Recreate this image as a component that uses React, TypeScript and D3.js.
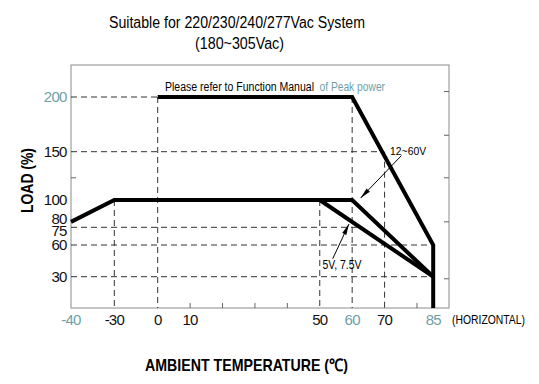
import React from "react";
import * as d3 from "d3";

// derating curves (temperature in °C, load in %)
const peakTemps = [0, 60, 85, 85];
const peakLoads = [200, 200, 60, 0];
const wideTemps = [-40, -30, 60, 85];
const wideLoads = [80, 100, 100, 30];
const lowTemps = [50, 85];
const lowLoads = [100, 30];

const xTickLabels = [-40, -30, 0, 10, 50, 60, 70, 85];
const yTickLabels = [200, 150, 100, 80, 75, 60, 30];
const xAccent = [-40, 60, 85];
const yAccent = [200];
const xMinorTicks = [10, 20, 30, 40, 80];
const leftMinorTicks = [123];
const rightMinorTicks = [205, 165, 123, 80, 28];

const W = 539;
const H = 384;
const frame = { left: 71, right: 449, top: 65, bottom: 308 };
const accent = "#6e9fa8";
const font = "'Liberation Sans', Arial, sans-serif";

// the printed axis is piecewise: -40..0 is squeezed
const x = d3.scaleLinear().domain([-40, -30, 0, 85]).range([71, 114.3, 157.7, 433.2]);
const y = d3.scaleLinear().domain([0, 30, 60, 75, 100, 150, 200]).range([308, 276.7, 245, 227.3, 200, 151.7, 97]);

const line = d3.line<[number, number]>().x(d => x(d[0])).y(d => y(d[1]));
const zip = (t: number[], l: number[]) => t.map((v, i) => [v, l[i]] as [number, number]);

// x pixel where a curve crosses a given load
function crossX(t: number[], l: number[], load: number) {
  for (let i = 0; i < t.length - 1; i++) {
    const y0 = y(l[i]), y1 = y(l[i + 1]), yy = y(load);
    if ((yy - y0) * (yy - y1) <= 0 && y0 !== y1) {
      const k = (yy - y0) / (y1 - y0);
      return x(t[i]) + k * (x(t[i + 1]) - x(t[i]));
    }
  }
  return x(85);
}

export default function App() {
  const dash = { stroke: "#333", strokeWidth: 1, strokeDasharray: "6,4", fill: "none" };
  const hLines = [
    { load: 200, x2: x(0) },
    { load: 150, x2: crossX(peakTemps, peakLoads, 150) },
    { load: 75, x2: crossX(lowTemps, lowLoads, 75) },
    { load: 60, x2: x(85) },
    { load: 30, x2: x(85) },
  ];
  const vLines = [
    { t: -30, top: 100 },
    { t: 0, top: 200 },
    { t: 50, top: 100 },
    { t: 60, top: 200 },
    { t: 70, top: 150 },
  ];
  const yLabelNudge: Record<number, number> = { 80: -3, 75: 3 };

  return (
    <svg width={W} height={H} style={{ position: "absolute", left: 0, top: 0, background: "#fff" }} fontFamily={font}>
      <defs>
        <marker id="ah" viewBox="0 0 12 6" refX="12" refY="3" markerWidth="11" markerHeight="5.5"
          markerUnits="userSpaceOnUse" orient="auto">
          <path d="M0,0.5 L12,3 L0,5.5 z" fill="#000" />
        </marker>
      </defs>

      <text x={237} y={28} textAnchor="middle" fontSize={16} textLength={256} lengthAdjust="spacingAndGlyphs">
        Suitable for 220/230/240/277Vac System
      </text>
      <text x={239.5} y={48.5} textAnchor="middle" fontSize={16} textLength={89} lengthAdjust="spacingAndGlyphs">
        (180~305Vac)
      </text>

      <rect x={frame.left} y={frame.top} width={frame.right - frame.left} height={frame.bottom - frame.top}
        fill="none" stroke="#8a8a8a" strokeWidth={1} />

      {xMinorTicks.map(t => (
        <line key={"xt" + t} x1={x(t)} x2={x(t)} y1={frame.bottom} y2={frame.bottom - 5} stroke="#666" />
      ))}
      {leftMinorTicks.map(v => (
        <line key={"lt" + v} x1={frame.left} x2={frame.left + 5} y1={y(v)} y2={y(v)} stroke="#666" />
      ))}
      {rightMinorTicks.map(v => (
        <line key={"rt" + v} x1={frame.right} x2={frame.right - 5} y1={y(v)} y2={y(v)} stroke="#666" />
      ))}

      {hLines.map(h => (
        <line key={"h" + h.load} x1={frame.left} x2={h.x2} y1={y(h.load)} y2={y(h.load)} style={dash} />
      ))}
      {vLines.map(v => (
        <line key={"v" + v.t} x1={x(v.t)} x2={x(v.t)} y1={y(v.top)} y2={frame.bottom} style={dash} />
      ))}

      <g fill="none" stroke="#000" strokeWidth={4} strokeLinejoin="miter">
        <path d={line(zip(peakTemps, peakLoads)) || ""} />
        <path d={line(zip(wideTemps, wideLoads)) || ""} />
        <path d={line(zip(lowTemps, lowLoads)) || ""} />
      </g>

      <text x={165} y={90.5} fontSize={12} textLength={149} lengthAdjust="spacingAndGlyphs">
        Please refer to Function Manual
      </text>
      <text x={319.5} y={90.5} fontSize={12} fill={accent} textLength={65.5} lengthAdjust="spacingAndGlyphs">
        of Peak power
      </text>

      {/* annotations */}
      <line x1={x(75.2)} y1={y(146)} x2={x(62.6)} y2={y(102)} stroke="#000" strokeWidth={1} markerEnd="url(#ah)" />
      <text x={x(71.7)} y={y(150) + 3.5} fontSize={11.5} textLength={36} lengthAdjust="spacingAndGlyphs">12~60V</text>
      <line x1={x(54)} y1={y(47)} x2={x(59)} y2={y(78)} stroke="#000" strokeWidth={1} markerEnd="url(#ah)" />
      <text x={322.5} y={268.5} fontSize={13} textLength={39} lengthAdjust="spacingAndGlyphs">5V, 7.5V</text>

      {yTickLabels.map(v => (
        <text key={"yl" + v} x={66.5} y={y(v) + (yLabelNudge[v] || 0)} dy="0.36em" textAnchor="end" fontSize={15}
          fill={yAccent.includes(v) ? accent : "#111"} letterSpacing={-0.8}>
          {v}
        </text>
      ))}
      {xTickLabels.map(t => (
        <text key={"xl" + t} x={x(t)} y={320} dy="0.36em" textAnchor="middle" fontSize={15}
          fill={xAccent.includes(t) ? accent : "#111"} letterSpacing={-0.8}>
          {t}
        </text>
      ))}
      <text x={452} y={323.5} fontSize={12} textLength={73} lengthAdjust="spacingAndGlyphs">(HORIZONTAL)</text>

      <text transform="translate(32.5,180.5) rotate(-90)" textAnchor="middle" fontSize={16} fontWeight="bold"
        textLength={65} lengthAdjust="spacingAndGlyphs">
        LOAD (%)
      </text>
      <text x={145} y={371} fontSize={17} fontWeight="bold" textLength={203} lengthAdjust="spacingAndGlyphs">
        AMBIENT TEMPERATURE (℃)
      </text>
    </svg>
  );
}
